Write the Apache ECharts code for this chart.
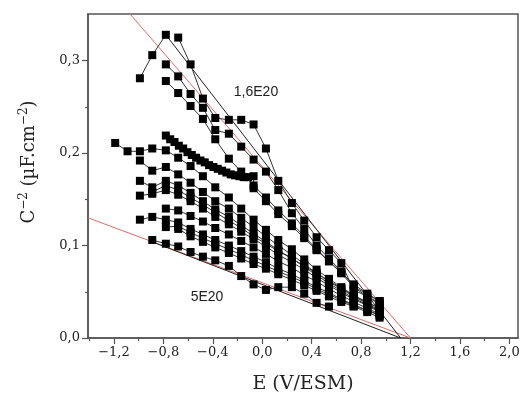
<!DOCTYPE html>
<html>
<head>
<meta charset="utf-8">
<script src="https://cdn.jsdelivr.net/npm/echarts@6/dist/echarts.min.js"></script>
<style>html,body{margin:0;padding:0;background:#fff}#c{width:531px;height:399px}</style>
</head>
<body>
<div id="c"></div>
<script>
// ---- data ----
const E_STEPS = [-1.19,-1.09,-0.99,-0.89,-0.78,-0.68,-0.58,-0.48,-0.38,-0.27,-0.17,-0.07,0.03,0.13,0.24,0.34,0.44,0.54,0.64,0.74,0.85,0.95];

const UA_START = 5; const UA_C = [0.325,0.296,0.259,0.238,0.236,0.236,0.231,0.205,0.170,0.146,0.127,0.109,0.095,0.081,0.052,0.045,0.038];
const UB_START = 2; const UB_C = [0.281,0.306,0.328];
const UC_START = 4; const UC_C = [0.296,0.283,0.264,0.249,0.225,0.221,0.207,0.193,0.180,0.160,0.135,0.118,0.100,0.086,0.072,0.056,0.047,0.040];
const UD_START = 4; const UD_C = [0.278,0.265,0.251,0.237,0.215,0.194,0.180,0.165,0.152,0.138,0.124,0.110,0.096,0.083,0.070,0.055,0.045,0.036];
const L1_START = 0; const L1_C = [0.211,0.202,0.202,0.205,0.203,0.195,0.186,0.175,0.163,0.152,0.140,0.128,0.117,0.106,0.096,0.085,0.074,0.064,0.055,0.046,0.038,0.032];
const L2_START = 2; const L2_C = [0.192,0.181,0.185,0.177,0.168,0.158,0.148,0.140,0.130,0.120,0.110,0.100,0.090,0.080,0.070,0.061,0.053,0.045,0.037,0.030];
const L3_START = 2; const L3_C = [0.170,0.163,0.170,0.165,0.157,0.148,0.139,0.131,0.122,0.113,0.104,0.095,0.086,0.077,0.068,0.059,0.051,0.043,0.036,0.029];
const L9_START = 3; const L9_C = [0.158,0.165,0.160,0.152,0.144,0.136,0.127,0.119,0.110,0.102,0.094,0.086,0.078,0.070,0.062,0.054,0.046,0.039,0.032];
const L4_START = 2; const L4_C = [0.154,0.156,0.160,0.155,0.148,0.140,0.131,0.123,0.115,0.107,0.099,0.090,0.082,0.074,0.065,0.057,0.049,0.042,0.035,0.028];
const L5_START = 4; const L5_C = [0.140,0.138,0.132,0.126,0.119,0.112,0.105,0.098,0.091,0.083,0.076,0.068,0.061,0.053,0.046,0.039,0.032,0.026];
const L6_START = 2; const L6_C = [0.128,0.131,0.128,0.125,0.118,0.112,0.106,0.100,0.094,0.088,0.082,0.075,0.069,0.062,0.055,0.049,0.042,0.036,0.030,0.024];
const L10_START = 4; const L10_C = [0.120,0.121,0.114,0.108,0.102,0.096,0.090,0.084,0.078,0.072,0.066,0.060,0.053,0.047,0.041,0.035,0.030,0.025];
const L7_START = 5; const L7_C = [0.118,0.110,0.104,0.098,0.092,0.086,0.080,0.075,0.069,0.063,0.057,0.051,0.045,0.039,0.034,0.028,0.022];
const L8_START = 3; const L8_C = [0.106,0.102,0.099,0.093,0.088,0.084,0.078,0.067,0.058,0.052,0.055,0.055,0.048,0.038,0.034];

const W_E = [-0.78,-0.745,-0.71,-0.675,-0.64,-0.605,-0.57,-0.535,-0.50,-0.465,-0.43,-0.395,-0.36,-0.325,-0.29,-0.255,-0.22,-0.185,-0.15,-0.115,-0.07,-0.07,0.03,0.13,0.24,0.34,0.44,0.54,0.64,0.74,0.85,0.95];
const W_C = [0.219,0.215,0.212,0.208,0.205,0.201,0.198,0.195,0.192,0.190,0.187,0.185,0.183,0.181,0.179,0.177,0.176,0.175,0.174,0.174,0.175,0.162,0.148,0.134,0.121,0.108,0.095,0.083,0.071,0.058,0.048,0.040];

// linear fits
const RED_A_E = [-1.07, 1.20]; const RED_A_C = [0.3505, 0];
const RED_B_E = [-1.41, 1.20]; const RED_B_C = [0.130, 0];
const BLK_A_E = [-0.78, 1.12]; const BLK_A_C = [0.328, 0];
const BLK_B_E = [-0.89, 1.12]; const BLK_B_C = [0.104, 0];

const X_MAJOR = [-1.2,-0.8,-0.4,0.0,0.4,0.8,1.2,1.6,2.0];
const X_MINOR = [-1.4,-1.0,-0.6,-0.2,0.2,0.6,1.0,1.4,1.8];
const Y_MAJOR = [0.0,0.1,0.2,0.3];
const Y_MINOR = [0.05,0.15,0.25];
const LABEL_1 = '1,6E20';
const LABEL_2 = '5E20';

// ---- build ----
function fromStart(start, cs){ return cs.map((c,i)=>[E_STEPS[start+i], c]); }
function pairs(es, cs){ return es.map((e,i)=>[e, cs[i]]); }

const dataSeries = [
  fromStart(UA_START, UA_C), fromStart(UB_START, UB_C), fromStart(UC_START, UC_C), fromStart(UD_START, UD_C),
  fromStart(L1_START, L1_C), fromStart(L2_START, L2_C), fromStart(L3_START, L3_C), fromStart(L9_START, L9_C),
  fromStart(L4_START, L4_C), fromStart(L5_START, L5_C), fromStart(L6_START, L6_C), fromStart(L10_START, L10_C),
  fromStart(L7_START, L7_C), fromStart(L8_START, L8_C),
  pairs(W_E, W_C)
];

const fmt = v => (Math.round(v*10)/10).toFixed(1).replace('.', ',').replace('-', '\u2212');
const serif = 'DejaVu Serif';

const series = [];
[[RED_A_E,RED_A_C],[RED_B_E,RED_B_C]].forEach(([e,c])=>series.push({
  type:'line', data:pairs(e,c), symbol:'none', lineStyle:{color:'#e26a6a', width:1}, z:1, silent:true
}));
[[BLK_A_E,BLK_A_C],[BLK_B_E,BLK_B_C]].forEach(([e,c])=>series.push({
  type:'line', data:pairs(e,c), symbol:'none', lineStyle:{color:'#222', width:1}, z:2, silent:true
}));
dataSeries.forEach(d=>series.push({
  type:'line', data:d, symbol:'rect', symbolSize:8, showAllSymbol:true,
  itemStyle:{color:'#000'}, lineStyle:{color:'#333', width:1}, z:3, silent:true
}));

const axisCommon = { show:true, onZero:false, lineStyle:{color:'#555', width:1.5} };

const chart = echarts.init(document.getElementById('c'), null, {renderer:'canvas'});
chart.setOption({
  animation:false,
  backgroundColor:'#fff',
  grid:{left:88, right:13, top:14, bottom:59, show:true, borderColor:'#555', borderWidth:1.5, backgroundColor:'transparent'},
  xAxis:[{
    type:'value', min:-1.41, max:2.07, position:'bottom',
    axisLine:axisCommon, splitLine:{show:false},
    axisTick:{show:true, length:6, lineStyle:{color:'#555', width:1.2}, customValues:X_MAJOR},
    axisLabel:{customValues:X_MAJOR, formatter:fmt, color:'#222', fontFamily:serif, fontSize:13, margin:8},
    name:'E (V/ESM)', nameLocation:'middle', nameGap:37,
    nameTextStyle:{fontFamily:serif, fontSize:19, color:'#222'}
  },{
    type:'value', min:-1.41, max:2.07, position:'bottom',
    axisLine:{show:false, onZero:false}, splitLine:{show:false}, axisLabel:{show:false},
    axisTick:{show:true, length:3, lineStyle:{color:'#555', width:1.2}, customValues:X_MINOR}
  }],
  yAxis:[{
    type:'value', min:0, max:0.3505, position:'left',
    axisLine:axisCommon, splitLine:{show:false},
    axisTick:{show:true, length:6, lineStyle:{color:'#555', width:1.2}, customValues:Y_MAJOR},
    axisLabel:{customValues:Y_MAJOR, formatter:fmt, color:'#222', fontFamily:serif, fontSize:13, margin:8}
  },{
    type:'value', min:0, max:0.3505, position:'left',
    axisLine:{show:false, onZero:false}, splitLine:{show:false}, axisLabel:{show:false},
    axisTick:{show:true, length:3, lineStyle:{color:'#555', width:1.2}, customValues:Y_MINOR}
  }],
  series:series,
  graphic:[
    {type:'text', x:29, y:162, rotation:Math.PI/2, style:{
      text:'{b|C}{s|\u22122}{b| (\u00b5F.cm}{s|\u22122}{b|)}',
      rich:{b:{fontFamily:serif, fontSize:18, fill:'#222', height:22}, s:{fontFamily:serif, fontSize:12, fill:'#222', height:22, verticalAlign:'top', padding:[0,0,10,0]}},
      align:'center', verticalAlign:'middle'
    }},
    {type:'text', x:256, y:92, style:{text:LABEL_1, font:'14px "Liberation Sans"', fill:'#222', align:'center', verticalAlign:'middle'}},
    {type:'text', x:207, y:297, style:{text:LABEL_2, font:'14px "Liberation Sans"', fill:'#222', align:'center', verticalAlign:'middle'}}
  ]
});
</script>
</body>
</html>
